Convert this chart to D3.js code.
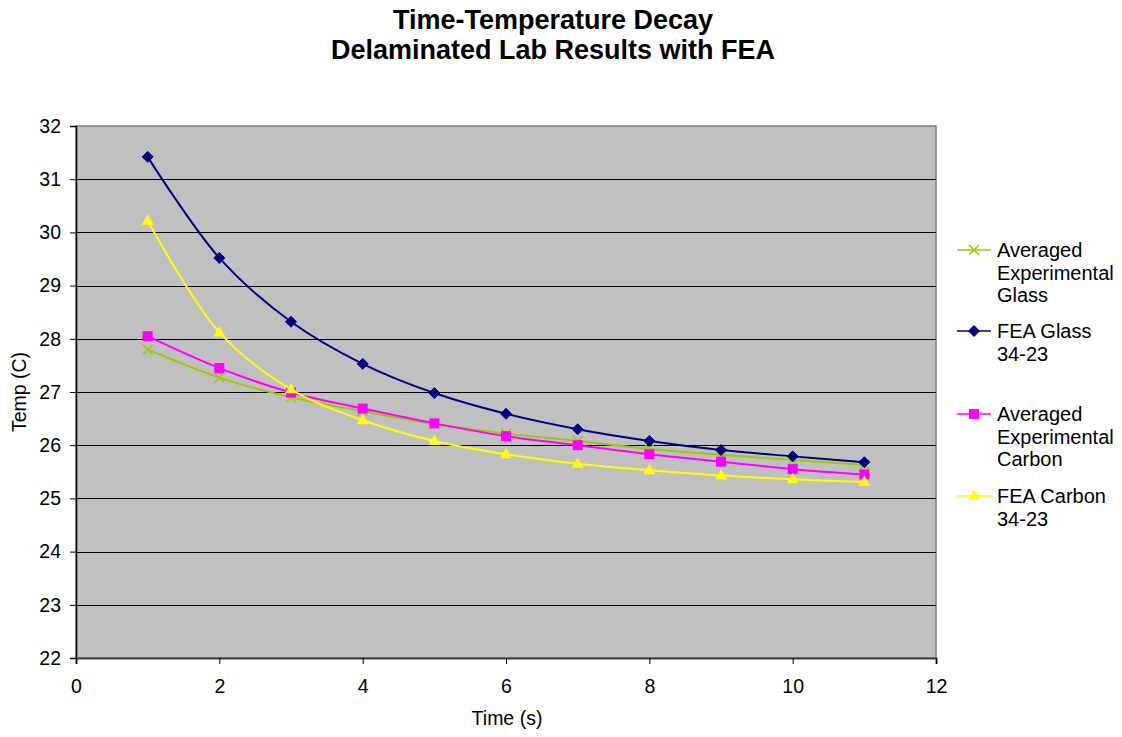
<!DOCTYPE html>
<html>
<head>
<meta charset="utf-8">
<script src="https://cdn.jsdelivr.net/npm/d3@7/dist/d3.min.js"></script>
<style>
  html, body { margin: 0; padding: 0; background: #fff; }
  svg { display: block; font-family: "Liberation Sans", Arial, sans-serif; }
</style>
</head>
<body>
<svg id="chart" width="1122" height="737"></svg>
<script>
// Time axis (seconds)
const times = [1, 2, 3, 4, 5, 6, 7, 8, 9, 10, 11];

// Temperature readings (C) per series
const avgExpGlass   = [27.80, 27.27, 26.90, 26.64, 26.40, 26.22, 26.08, 25.93, 25.82, 25.72, 25.63];
const feaGlass      = [31.42, 29.52, 28.32, 27.53, 26.98, 26.59, 26.30, 26.08, 25.91, 25.79, 25.68];
const avgExpCarbon  = [28.05, 27.45, 26.99, 26.69, 26.41, 26.17, 26.00, 25.83, 25.69, 25.55, 25.45];
const feaCarbon     = [30.22, 28.12, 27.05, 26.47, 26.08, 25.83, 25.65, 25.53, 25.43, 25.36, 25.31];

const seriesNames = [
  ["Averaged", "Experimental", "Glass"],
  ["FEA Glass", "34-23"],
  ["Averaged", "Experimental", "Carbon"],
  ["FEA Carbon", "34-23"]
];
const seriesColors = ["#99CC00", "#000080", "#FF00FF", "#FFFF00"];
const seriesMarkers = ["cross", "diamond", "square", "triangle"];

const xTicks = [0, 2, 4, 6, 8, 10, 12];
const yTicks = [22, 23, 24, 25, 26, 27, 28, 29, 30, 31, 32];

const titleLines = ["Time-Temperature Decay", "Delaminated Lab Results with FEA"];
const xTitle = "Time (s)";
const yTitle = "Temp (C)";

const series = [avgExpGlass, feaGlass, avgExpCarbon, feaCarbon].map((vals, i) => ({
  name: seriesNames[i],
  color: seriesColors[i],
  marker: seriesMarkers[i],
  points: vals.map((v, j) => ({ t: times[j], v }))
}));

const svg = d3.select("#chart");
const plot = { left: 76, right: 936, top: 126, bottom: 658 };

const x = d3.scaleLinear().domain([0, 12]).range([plot.left, plot.right]);
const y = d3.scaleLinear().domain([22, 32]).range([plot.bottom, plot.top]);

// Title
svg.append("g").selectAll("text").data(titleLines).join("text")
  .attr("x", 553).attr("y", (d, i) => 29 + i * 30)
  .attr("text-anchor", "middle")
  .attr("font-weight", "bold").attr("font-size", 27)
  .text(d => d);

// Plot area background
svg.append("rect")
  .attr("x", plot.left).attr("y", plot.top)
  .attr("width", plot.right - plot.left).attr("height", plot.bottom - plot.top)
  .attr("fill", "#C0C0C0").attr("stroke", "#808080").attr("stroke-width", 1.5);

// Horizontal gridlines
svg.append("g").selectAll("line").data(yTicks.filter(d => d !== 22 && d !== 32)).join("line")
  .attr("x1", plot.left).attr("x2", plot.right)
  .attr("y1", d => Math.round(y(d)) + 0.5).attr("y2", d => Math.round(y(d)) + 0.5)
  .attr("stroke", "#000").attr("stroke-width", 1.2);

// Axes
const yAxis = d3.axisLeft(y).tickValues(yTicks).tickSize(6).tickPadding(9).tickFormat(d3.format("d"));
const xAxis = d3.axisBottom(x).tickValues(xTicks).tickSize(6).tickPadding(15).tickFormat(d3.format("d"));

const gy = svg.append("g").attr("transform", `translate(${plot.left},0)`).call(yAxis);
const gx = svg.append("g").attr("transform", `translate(0,${plot.bottom})`).call(xAxis);
[gx, gy].forEach(g => {
  g.selectAll("path.domain").attr("stroke", "#000").attr("stroke-width", 1.5);
  g.selectAll(".tick line").attr("stroke", "#000");
  g.selectAll(".tick text").attr("font-size", 19.5).attr("fill", "#000")
    .attr("font-family", "'Liberation Sans', Arial, sans-serif");
});
gx.select("path.domain").attr("stroke", "#404040").attr("stroke-width", 2);

// Axis titles
svg.append("text").attr("x", (plot.left + plot.right) / 2 + 1).attr("y", 725)
  .attr("text-anchor", "middle").attr("font-size", 19.5).text(xTitle);
svg.append("text").attr("transform", `translate(26,${(plot.top + plot.bottom) / 2}) rotate(-90)`)
  .attr("text-anchor", "middle").attr("font-size", 19.5).text(yTitle);

// Marker drawing
function drawMarker(g, type, color, cx, cy) {
  if (type === "cross") {
    g.append("path")
      .attr("d", `M${cx - 5},${cy - 5}L${cx + 5},${cy + 5}M${cx - 5},${cy + 5}L${cx + 5},${cy - 5}`)
      .attr("stroke", color).attr("stroke-width", 1.5).attr("fill", "none");
  } else if (type === "diamond") {
    g.append("path")
      .attr("d", `M${cx},${cy - 5.5}L${cx + 5.5},${cy}L${cx},${cy + 5.5}L${cx - 5.5},${cy}Z`)
      .attr("fill", color).attr("stroke", color);
  } else if (type === "square") {
    g.append("rect").attr("x", cx - 5).attr("y", cy - 5).attr("width", 10).attr("height", 10)
      .attr("fill", color);
  } else if (type === "triangle") {
    g.append("path")
      .attr("d", `M${cx},${cy - 6.5}L${cx + 6},${cy + 4}L${cx - 6},${cy + 4}Z`)
      .attr("fill", color);
  }
}

const line = d3.line().x(d => x(d.t)).y(d => y(d.v)).curve(d3.curveCatmullRom.alpha(0.5));

const plotG = svg.append("g");
series.forEach(s => {
  const g = plotG.append("g");
  g.append("path").datum(s.points).attr("d", line)
    .attr("fill", "none").attr("stroke", s.color).attr("stroke-width", 2);
  s.points.forEach(p => drawMarker(g, s.marker, s.color, x(p.t), y(p.v)));
});

// Legend
const legendTops = [250, 331, 414, 496];
const legend = svg.append("g");
series.forEach((s, i) => {
  const ly = legendTops[i];
  const g = legend.append("g");
  g.append("line").attr("x1", 957).attr("x2", 991).attr("y1", ly).attr("y2", ly)
    .attr("stroke", s.color).attr("stroke-width", 1.5);
  drawMarker(g, s.marker, s.color, 974, ly);
  g.append("text").attr("x", 997).attr("y", ly + 7).attr("font-size", 20)
    .selectAll("tspan").data(s.name).join("tspan")
    .attr("x", 997).attr("dy", (d, j) => j === 0 ? 0 : 22.7)
    .text(d => d);
});
</script>
</body>
</html>
